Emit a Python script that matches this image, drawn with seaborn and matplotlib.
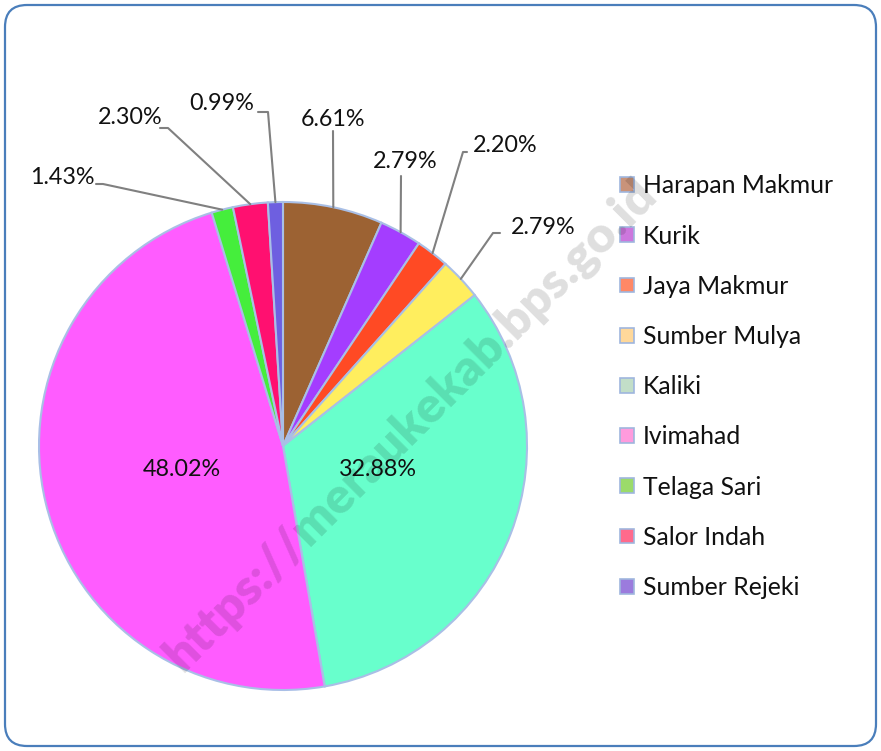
import matplotlib
matplotlib.use("Agg")
import matplotlib.pyplot as plt
from matplotlib.patches import FancyBboxPatch, Patch
import numpy as np
import seaborn as sns

sns.set_theme(style="white")
plt.rcParams["font.family"] = ["Lato", "DejaVu Sans"]

names = ["Harapan Makmur", "Kurik", "Jaya Makmur", "Sumber Mulya", "Kaliki",
         "Ivimahad", "Telaga Sari", "Salor Indah", "Sumber Rejeki"]
shares = [6.61, 2.79, 2.20, 2.79, 32.88, 48.02, 1.43, 2.30, 0.99]
labels = ["6.61%", "2.79%", "2.20%", "2.79%", "32.88%", "48.02%", "1.43%", "2.30%", "0.99%"]

slice_colors = ["#9C6233", "#A43DFF", "#FF4A24", "#FFEE5E", "#68FFCC",
                "#FF5CFF", "#45EE3C", "#FF1070", "#6E5FE0"]
legend_colors = ["#C9937A", "#CC77DD", "#FF8866", "#FFD89A", "#C2DEC8",
                 "#FF9BDD", "#9BDB6A", "#FF6A8C", "#9B7BDD"]

# layout (figure pixels, y down)
W, H = 881, 751
cx, cy, R = 283, 446, 244
# label text position, leader knee and end (None = label inside slice)
label_pos = [(333, 120), (405, 162), (505, 146), (543, 227), (378, 469),
             (182, 469), (62, 177), (130, 118), (222, 104)]
leader_end = [(333, 131), (401, 176), (467, 152), (500, 233), None,
              None, (96, 184), (160, 128), (258, 112)]
leader_knee = [None, None, (463, 152), (493, 233), None,
               None, (103, 184), (168, 128), (268, 112)]

fig = plt.figure(figsize=(W / 100, H / 100), dpi=100)
ax = fig.add_axes([0, 0, 1, 1])

frame = FancyBboxPatch((5, 5), W - 10, H - 10, boxstyle="round,pad=0,rounding_size=22",
                       fc="white", ec="#4A7EBB", lw=1.6, transform=ax.transData, zorder=0)
ax.add_patch(frame)

wedges, _ = ax.pie(shares, colors=slice_colors, startangle=90, counterclock=False,
                   center=(cx, H - cy), radius=R, frame=True,
                   wedgeprops=dict(edgecolor="#A9BFE6", linewidth=1.5))
ax.set_xlim(0, W)
ax.set_ylim(0, H)
ax.set_aspect("auto")
ax.axis("off")

for w, lab, pos, end, knee in zip(wedges, labels, label_pos, leader_end, leader_knee):
    ax.text(pos[0], H - pos[1], lab, ha="center", va="center", fontsize=16.8,
            color="#111111", zorder=5)
    if end is None:
        continue
    mid = np.deg2rad((w.theta1 + w.theta2) / 2)
    xs = [cx + R * np.cos(mid)]
    ys = [(H - cy) + R * np.sin(mid)]
    if knee is not None:
        xs.append(knee[0])
        ys.append(H - knee[1])
    xs.append(end[0])
    ys.append(H - end[1])
    ax.plot(xs, ys, color="#808080", lw=1.5, zorder=4)

handles = [Patch(facecolor=c, edgecolor="#9FB6DE", linewidth=1.2) for c in legend_colors]
leg = ax.legend(handles, names, loc="upper left", bbox_to_anchor=(608 / W, 1 - 162 / H),
                bbox_transform=fig.transFigure, frameon=False, fontsize=17.8,
                labelspacing=1.1, handlelength=0.55, handleheight=0.55,
                handletextpad=0.35, borderpad=0)
for t in leg.get_texts():
    t.set_color("#111111")

ax.text(410, H - 425, "https://meraukekab.bps.go.id", rotation=45, ha="center",
        va="center", fontsize=36, fontweight="heavy", color="black", alpha=0.13, zorder=6)

fig.savefig("out.png", dpi=100)
